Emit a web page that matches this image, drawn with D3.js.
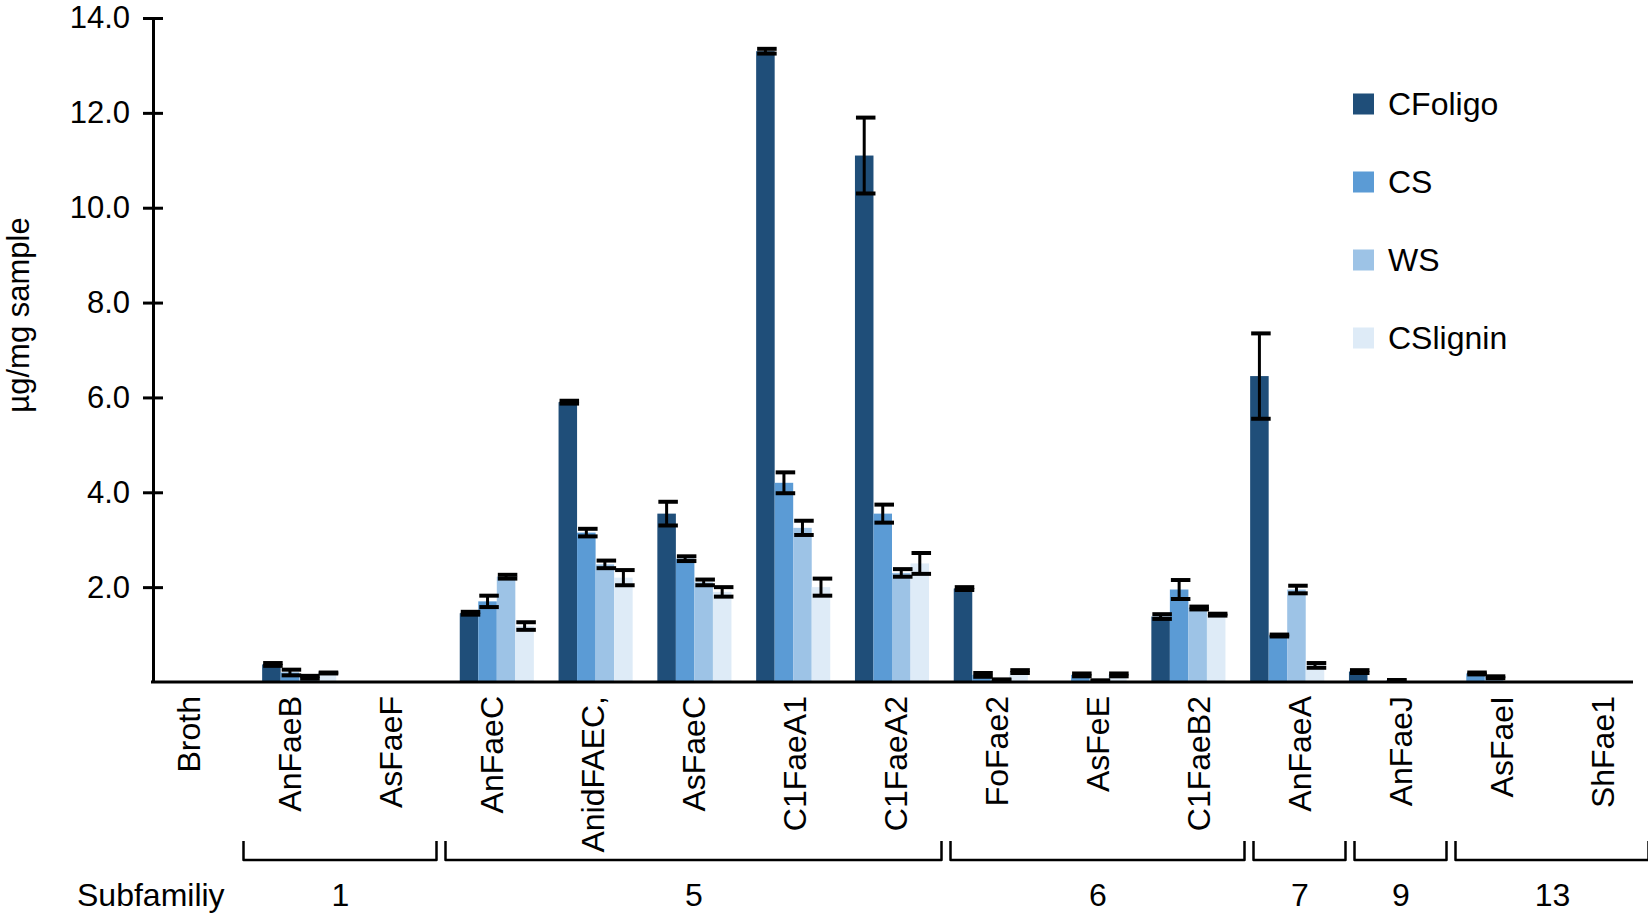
<!DOCTYPE html>
<html>
<head>
<meta charset="utf-8">
<script src="https://cdn.jsdelivr.net/npm/d3@7"></script>
<style>
  body { margin: 0; background: #fff; }
  text { font-family: "Liberation Sans", Arial, sans-serif; fill: #000; }
</style>
</head>
<body>
<script>
// categories and series
var categories = ["Broth", "AnFaeB", "AsFaeF", "AnFaeC", "AnidFAEC,", "AsFaeC", "C1FaeA1", "C1FaeA2",
                  "FoFae2", "AsFeE", "C1FaeB2", "AnFaeA", "AnFaeJ", "AsFaeI", "ShFae1"];
var seriesNames = ["CFoligo", "CS", "WS", "CSlignin"];
var seriesColors = ["#1f4e79", "#5b9bd5", "#9dc3e6", "#deebf7"];

var CFoligo    = [0, 0.37, 0, 1.45, 5.90, 3.55, 13.30, 11.10, 1.97, 0, 1.38, 6.45, 0.22, 0, 0];
var CFoligoErr = [0, 0.03, 0, 0.03, 0.03, 0.25, 0.05, 0.80, 0.03, 0, 0.05, 0.90, 0.03, 0, 0];
var CS         = [0, 0.20, 0, 1.70, 3.15, 2.60, 4.20, 3.55, 0.15, 0.15, 1.95, 0.98, 0, 0.18, 0];
var CSErr      = [0, 0.06, 0, 0.12, 0.08, 0.05, 0.22, 0.19, 0.04, 0.03, 0.20, 0.02, 0, 0.02, 0];
var WS         = [0, 0.10, 0, 2.22, 2.48, 2.10, 3.25, 2.30, 0.05, 0.03, 1.56, 1.95, 0.04, 0.10, 0];
var WSErr      = [0, 0.03, 0, 0.04, 0.08, 0.06, 0.15, 0.08, 0, 0, 0.03, 0.08, 0, 0.02, 0];
var CSlignin   = [0, 0.19, 0, 1.18, 2.20, 1.90, 2.00, 2.50, 0.22, 0.15, 1.42, 0.35, 0, 0, 0];
var CSligninErr= [0, 0.01, 0, 0.08, 0.16, 0.10, 0.18, 0.22, 0.03, 0.03, 0.02, 0.05, 0, 0, 0];

var yTicks = [2, 4, 6, 8, 10, 12, 14];

// subfamily brackets
var subfamilies = ["1", "5", "6", "7", "9", "13"];
var subStart = ["AnFaeB", "AnFaeC", "FoFae2", "AnFaeA", "AnFaeJ", "AsFaeI"];
var subEnd   = ["AsFaeF", "C1FaeA2", "C1FaeB2", "AnFaeA", "AnFaeJ", "ShFae1"];

var values = [CFoligo, CS, WS, CSlignin];
var errors = [CFoligoErr, CSErr, WSErr, CSligninErr];

var W = 1648, H = 918;
var svg = d3.select("body").append("svg")
    .attr("width", W)
    .attr("height", H);

// scales
var x = d3.scaleBand().domain(categories).range([151, 1633]).paddingInner(0.25).paddingOuter(0.125);
var x1 = d3.scaleBand().domain(seriesNames).range([0, x.bandwidth()]);
var xl = d3.scaleBand().domain(categories).range([138.5, 1653.5]);   // label / bracket positions
var y = d3.scaleLinear().domain([0, 14]).range([682, 18]);

// bars
var groups = svg.append("g").selectAll("g")
    .data(categories)
  .enter().append("g")
    .attr("transform", function(d) { return "translate(" + x(d) + ",0)"; });

groups.selectAll("rect")
    .data(function(d, i) {
      return seriesNames.map(function(s, j) { return {s: s, j: j, v: values[j][i], e: errors[j][i]}; });
    })
  .enter().append("rect")
    .attr("x", function(d) { return x1(d.s); })
    .attr("width", x1.bandwidth())
    .attr("y", function(d) { return y(d.v); })
    .attr("height", function(d) { return y(0) - y(d.v); })
    .attr("fill", function(d) { return seriesColors[d.j]; });

// error bars
var eb = groups.selectAll("g.err")
    .data(function(d, i) {
      return seriesNames.map(function(s, j) { return {s: s, v: values[j][i], e: errors[j][i]}; })
        .filter(function(d) { return d.v > 0; });
    })
  .enter().append("g")
    .attr("class", "err")
    .attr("stroke", "#000")
    .attr("stroke-width", 3);

eb.append("line")
    .attr("x1", function(d) { return x1(d.s) + x1.bandwidth() / 2; })
    .attr("x2", function(d) { return x1(d.s) + x1.bandwidth() / 2; })
    .attr("y1", function(d) { return y(d.v + d.e); })
    .attr("y2", function(d) { return y(Math.max(0, d.v - d.e)); });

eb.append("line")
    .attr("x1", function(d) { return x1(d.s) + 1; })
    .attr("x2", function(d) { return x1(d.s) + x1.bandwidth() + 2; })
    .attr("y1", function(d) { return y(d.v + d.e); })
    .attr("y2", function(d) { return y(d.v + d.e); })
    .attr("stroke-width", 4);

eb.append("line")
    .attr("x1", function(d) { return x1(d.s) + 1; })
    .attr("x2", function(d) { return x1(d.s) + x1.bandwidth() + 2; })
    .attr("y1", function(d) { return y(Math.max(0, d.v - d.e)); })
    .attr("y2", function(d) { return y(Math.max(0, d.v - d.e)); })
    .attr("stroke-width", 4);

// y axis
var yAxis = svg.append("g")
    .attr("transform", "translate(153,0)")
    .call(d3.axisLeft(y).tickValues(yTicks).tickFormat(d3.format(".1f"))
          .tickSizeInner(10).tickSizeOuter(0).tickPadding(13));
yAxis.select(".domain").attr("stroke-width", 3);
yAxis.selectAll(".tick line").attr("x1", 10).attr("stroke-width", 3);
yAxis.selectAll(".tick text").attr("font-size", 31).attr("font-family", "Liberation Sans, Arial, sans-serif");

// x axis line
svg.append("line")
    .attr("x1", 151).attr("x2", 1633)
    .attr("y1", y(0)).attr("y2", y(0))
    .attr("stroke", "#000").attr("stroke-width", 3);

// y label
svg.append("text")
    .attr("transform", "translate(18,315) rotate(-90)")
    .attr("dy", "0.35em")
    .attr("text-anchor", "middle")
    .attr("font-size", 31)
    .text("µg/mg sample");

// category labels
svg.append("g").selectAll("text")
    .data(categories)
  .enter().append("text")
    .attr("transform", function(d) { return "translate(" + (xl(d) + xl.bandwidth() / 2) + ",696) rotate(-90)"; })
    .attr("dy", "0.35em")
    .attr("text-anchor", "end")
    .attr("font-size", 32)
    .text(function(d) { return d; });

// brackets
var br = svg.append("g").selectAll("g")
    .data(subfamilies)
  .enter().append("g");

br.append("path")
    .attr("d", function(d, i) {
      var a = xl(subStart[i]) + 4, b = xl(subEnd[i]) + xl.bandwidth() - 5;
      return "M" + a + ",841 V860 H" + b + " V841";
    })
    .attr("fill", "none")
    .attr("stroke", "#000")
    .attr("stroke-width", 2.5)
    .attr("stroke-linejoin", "round");

br.append("text")
    .attr("x", function(d, i) { return (xl(subStart[i]) + xl(subEnd[i]) + xl.bandwidth()) / 2; })
    .attr("y", 895)
    .attr("dy", "0.35em")
    .attr("text-anchor", "middle")
    .attr("font-size", 32)
    .text(function(d) { return d; });

svg.append("text")
    .attr("x", 77).attr("y", 895)
    .attr("dy", "0.35em")
    .attr("font-size", 32)
    .text("Subfamiliy");

// legend
var leg = svg.append("g").selectAll("g")
    .data(seriesNames)
  .enter().append("g")
    .attr("transform", function(d, i) { return "translate(1353," + (104 + i * 78) + ")"; });

leg.append("rect")
    .attr("y", -10.5)
    .attr("width", 21).attr("height", 21)
    .attr("fill", function(d, i) { return seriesColors[i]; });

leg.append("text")
    .attr("x", 35)
    .attr("dy", "0.35em")
    .attr("font-size", 32)
    .text(function(d) { return d; });
</script>
</body>
</html>
